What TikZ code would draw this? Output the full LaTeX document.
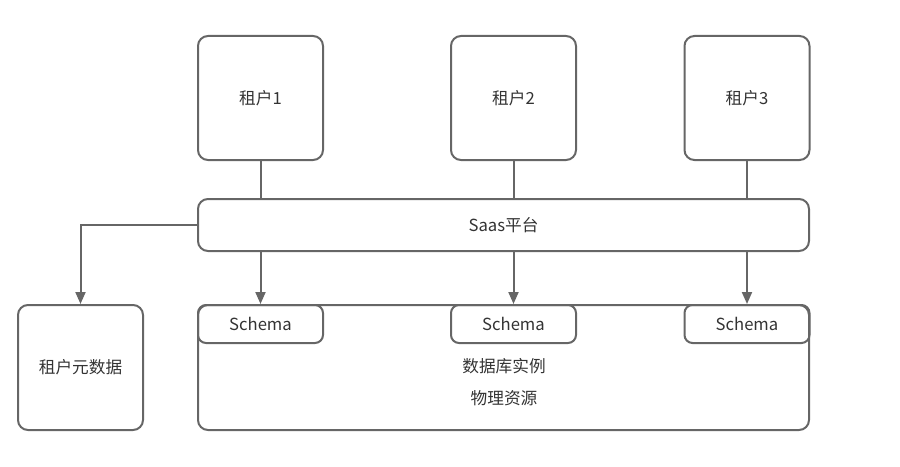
\documentclass[tikz,border=0pt]{standalone}
\usepackage{fontspec}
\setmainfont{Noto Sans CJK SC}
\usetikzlibrary{arrows.meta}
\definecolor{linegray}{RGB}{102,102,102}
\definecolor{textgray}{RGB}{51,51,51}

\begin{document}
\begin{tikzpicture}[x=0.75pt,y=0.75pt,yscale=-1,
  box/.style={draw=linegray,line width=1.5pt,rounded corners=7.5pt,inner sep=0pt,
    text=textgray,font=\fontsize{12.5pt}{15pt}\selectfont},
  tenant/.style={box,minimum width=93.75pt,minimum height=93pt},
  schemabox/.style={box,rounded corners=6pt,minimum width=93.75pt,minimum height=28.5pt},
  link/.style={draw=linegray,line width=1.5pt},
  arr/.style={link,-{Triangle[length=9pt,width=7.5pt]}}]
%set diagram to the reference size
\useasboundingbox (0,0) rectangle (900,467);

% Tenants
\node [tenant] (t1) at (260.5,98) {租户1};
\node [tenant] (t2) at (513.5,98) {租户2};
\node [tenant] (t3) at (747,98) {租户3};

% Platform
\node [box,minimum width=458.25pt,minimum height=39pt] (saas) at (503.5,225) {Saas平台};

% Database instance
\node [box,minimum width=458.25pt,minimum height=93.75pt] (db) at (503.5,367.5) {};
\node [text=textgray,font=\fontsize{12.5pt}{24pt}\selectfont,align=center] (dbtext) at (504,382) {数据库实例\\物理资源};

% Schemas
\node [schemabox] (s1) at (260.5,324) {Schema};
\node [schemabox] (s2) at (513.5,324) {Schema};
\node [schemabox] (s3) at (747,324) {Schema};

% Tenant metadata
\node [tenant,minimum height=93.75pt] (meta) at (80.5,367.5) {租户元数据};

% Connectors
\draw [link] (t1) -- (t1 |- saas.north);
\draw [link] (t2) -- (t2 |- saas.north);
\draw [link] (t3) -- (t3 |- saas.north);
\draw [arr] (saas.south -| s1) -- (s1.north);
\draw [arr] (saas.south -| s2) -- (s2.north);
\draw [arr] (saas.south -| s3) -- (s3.north);
\draw [arr] (saas.west) -| (meta.north);

\end{tikzpicture}
\end{document}
